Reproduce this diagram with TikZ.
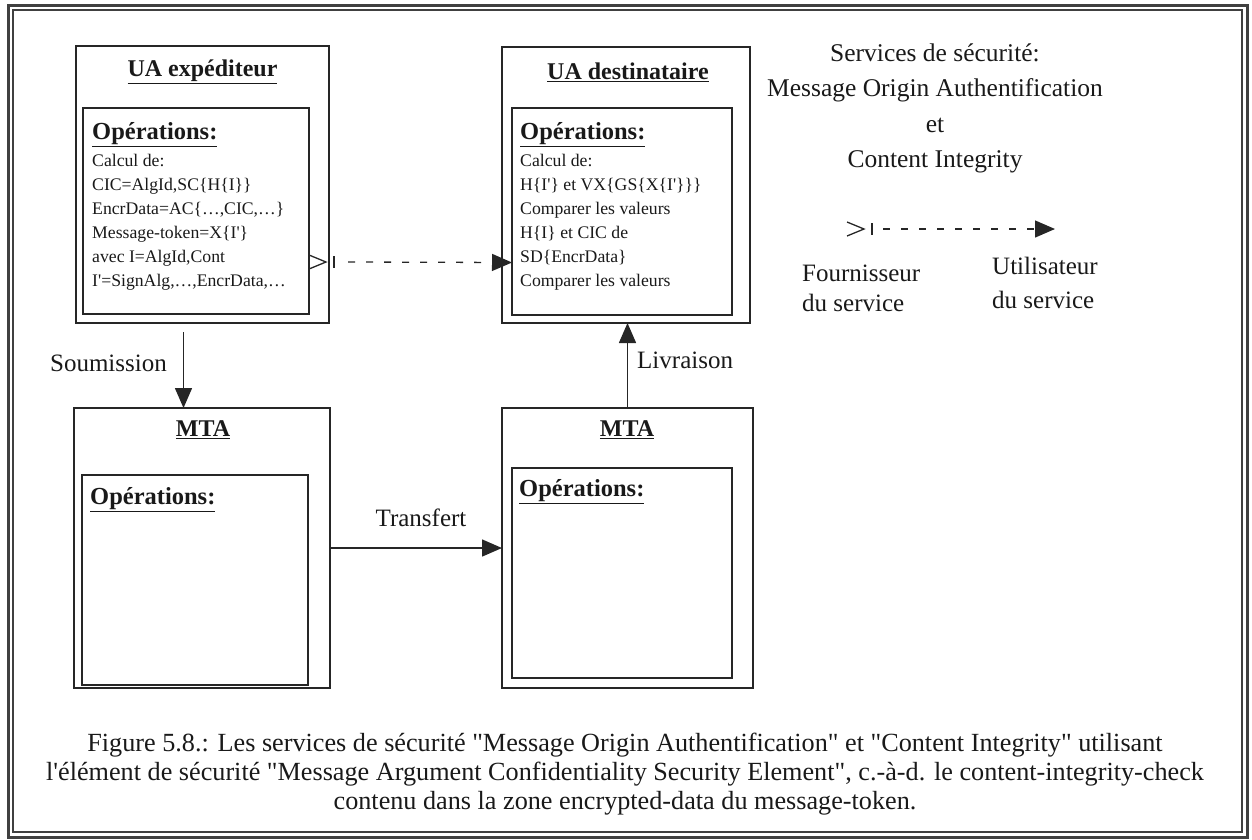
\documentclass[tikz,border=0pt]{standalone}
\usepackage{fontspec}
% plain family: straight quotes and apostrophes, no TeX input mapping
\newfontfamily\plainserif{Liberation Serif}
\usetikzlibrary{arrows.meta}
\begin{document}
\plainserif
\begin{tikzpicture}[x=1pt,y=-1pt,
  box/.style={draw=black!85, line width=1.5pt, rectangle, inner sep=0pt, outer sep=0pt, anchor=north west},
  ttl/.style={font=\fontsize{24}{28}\selectfont\bfseries, text=black!90, inner sep=0pt},
  ophead/.style={font=\fontsize{24.5}{28}\selectfont\bfseries, text=black!90, anchor=west, inner sep=0pt},
  opbody/.style={font=\fontsize{17.7}{24}\selectfont, text=black!90, align=left, anchor=north west, inner sep=0pt},
  lbl/.style={font=\fontsize{25}{30}\selectfont, text=black!90, inner sep=0pt},
  arr/.style={draw=black!85, line width=1.5pt, -{Triangle[length=20pt,width=17pt]}},
  svcline/.style={draw=black!85, line width=1.3pt, dash pattern=on 7pt off 11pt, -{Triangle[length=20pt,width=17pt]}},
  provider/.pic={\draw[black!85, line width=1.3pt] (0,-7) -- (17,0) -- (0,7);
                 \draw[black!85, line width=1.3pt] (25,-6) -- (25,6);},
]
\useasboundingbox (0,0) rectangle (1252,839);

% double frame
\draw[line width=3pt, black!75] (8,5) rectangle (1247,837);
\draw[line width=1.2pt, black!75] (13,10) rectangle (1242,832);

% sending user agent
\node[box, minimum width=253pt, minimum height=277pt] (ua1) at (76,46) {};
\node[box, minimum width=226pt, minimum height=206pt] (ops1) at (83,108) {};
\node[ttl] (ua1t) at (202.5,72) {\underline{UA expéditeur}};
\node[ophead] (op1h) at (92,135) {\underline{Opérations:}};
\node[opbody] (op1b) at (92,154) {Calcul de:\\
CIC=AlgId,SC\{H\{I\}\}\\
EncrData=AC\{…,CIC,…\}\\
Message-token=X\{I'\}\\
avec I=AlgId,Cont\\
I'=SignAlg,…,EncrData,…};

% receiving user agent
\node[box, minimum width=248pt, minimum height=276pt] (ua2) at (502,47) {};
\node[box, minimum width=220pt, minimum height=207pt] (ops2) at (512,108) {};
\node[ttl] (ua2t) at (628,72) {\underline{UA destinataire}};
\node[ophead] (op2h) at (520,135) {\underline{Opérations:}};
\node[opbody] (op2b) at (520,154) {Calcul de:\\
H\{I'\} et VX\{GS\{X\{I'\}\}\}\\
Comparer les valeurs\\
H\{I\} et CIC de\\
SD\{EncrData\}\\
Comparer les valeurs};

% message transfer agents
\node[box, minimum width=256pt, minimum height=280pt] (mta1) at (74,408) {};
\node[box, minimum width=226pt, minimum height=210pt] (mops1) at (82,475) {};
\node[ttl] (mta1t) at (203,430) {\underline{MTA}};
\node[ophead] (mop1h) at (90,500) {\underline{Opérations:}};

\node[box, minimum width=251pt, minimum height=280pt] (mta2) at (502,408) {};
\node[box, minimum width=220pt, minimum height=210pt] (mops2) at (512,468) {};
\node[ttl] (mta2t) at (627,430) {\underline{MTA}};
\node[ophead] (mop2h) at (519,492) {\underline{Opérations:}};

% flows between the agents
\draw[arr, shorten <=9pt] ([xshift=-19pt]ua1.south) -- ([xshift=-19pt]ua1.south |- mta1.north);
\node[lbl, anchor=east] (soum) at (167,363) {Soumission};
\draw[arr] (mta2.north) -- (mta2.north |- ua2.south);
\node[lbl, anchor=west] (livr) at (637,360) {Livraison};
\draw[arr] (mta1.east) -- (mta1.east -| mta2.west);
\node[lbl] (trans) at (421,518) {Transfert};

% security service: provider -> user
\pic at ([yshift=-51pt]ops1.east) {provider};
\draw[svcline] ([yshift=-51pt,xshift=39pt]ops1.east) -- ([yshift=-51pt]ops2.west);

% legend
\node[lbl, align=center, font=\fontsize{25.5}{35.5}\selectfont] (svc) at (935,108.5)
  {Services de sécurité:\\ Message Origin Authentification\\ et\\ Content Integrity};
\coordinate (lp) at (847,229);
\coordinate (lu) at (1055,229);
\pic at (lp) {provider};
\draw[svcline] ([xshift=36pt]lp) -- (lu);
\node[lbl, align=left, anchor=north west, font=\fontsize{25}{30}\selectfont] (fourn) at (802,265) {Fournisseur\\ du service};
\node[lbl, align=left, anchor=north west, font=\fontsize{25}{34}\selectfont] (util) at (992,257) {Utilisateur\\ du service};

% caption
\node[lbl, align=center, font=\fontsize{26.2}{29}\selectfont] (cap) at (625,774)
  {Figure 5.8.: Les services de sécurité "Message Origin Authentification" et "Content Integrity" utilisant\\
   l'élément de sécurité "Message Argument Confidentiality Security Element", c.-à-d. le content-integrity-check\\
   contenu dans la zone encrypted-data du message-token.};
\end{tikzpicture}
\end{document}
